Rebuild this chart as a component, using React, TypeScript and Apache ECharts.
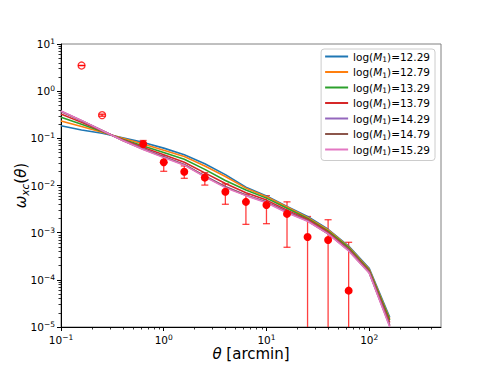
import React, { useEffect, useRef } from 'react';
import * as echarts from 'echarts';

// ---------- data ----------
const thetaModel = [0.1, 0.1585, 0.2512, 0.3981, 0.631, 1, 1.585, 2.512, 3.981, 6.31, 10, 15.85, 25.12, 39.81, 63.1, 100, 158.5];
const massLabels = ['12.29', '12.79', '13.29', '13.79', '14.29', '14.79', '15.29'];
const seriesColors = ['#1f77b4', '#ff7f0e', '#2ca02c', '#d62728', '#9467bd', '#8c564b', '#e377c2'];

const model1229 = [0.185, 0.150, 0.128, 0.103, 0.082, 0.062, 0.045, 0.029, 0.017, 0.0092, 0.0060, 0.0036, 0.0022, 0.00118, 0.00052, 0.000175, 1.6e-5];
const model1279 = [0.233, 0.178, 0.135, 0.100, 0.076, 0.056, 0.041, 0.026, 0.0155, 0.0088, 0.0058, 0.0035, 0.0021, 0.00114, 0.00050, 0.000168, 1.5e-5];
const model1329 = [0.279, 0.198, 0.140, 0.096, 0.069, 0.050, 0.036, 0.022, 0.0128, 0.0080, 0.0054, 0.0033, 0.0020, 0.00108, 0.00048, 0.000160, 1.4e-5];
const model1379 = [0.328, 0.218, 0.143, 0.093, 0.064, 0.045, 0.031, 0.0185, 0.011, 0.0070, 0.0049, 0.0030, 0.0019, 0.00102, 0.00045, 0.000152, 1.25e-5];
const model1429 = [0.370, 0.235, 0.146, 0.091, 0.060, 0.041, 0.028, 0.016, 0.0095, 0.0063, 0.0045, 0.0028, 0.0018, 0.00096, 0.00043, 0.000144, 1.1e-5];
const model1479 = [0.375, 0.237, 0.146, 0.090, 0.059, 0.040, 0.0275, 0.0157, 0.0093, 0.0062, 0.0044, 0.0027, 0.00178, 0.00095, 0.00042, 0.000142, 1.05e-5];
const model1529 = [0.380, 0.240, 0.147, 0.090, 0.058, 0.039, 0.027, 0.0153, 0.0090, 0.0061, 0.0043, 0.00265, 0.00175, 0.00094, 0.00041, 0.00014, 1.0e-5];
const modelValues = [model1229, model1279, model1329, model1379, model1429, model1479, model1529];

const obsTheta = [0.631, 1, 1.585, 2.512, 3.981, 6.31, 10, 15.85, 25.12, 39.81, 63.1];
const obsOmega = [0.076, 0.031, 0.0195, 0.0147, 0.0074, 0.0045, 0.00385, 0.0025, 0.00081, 0.0007, 5.9e-5];
const obsLow = [0.065, 0.020, 0.0142, 0.0102, 0.0040, 0.0015, 0.00155, 0.00049, 1e-7, 1e-7, 1e-7];
const obsHigh = [0.090, 0.043, 0.026, 0.0187, 0.0108, 0.0065, 0.0061, 0.0045, 0.0022, 0.00188, 0.000625];

const hollowTheta = [0.1585, 0.2512];
const hollowOmega = [3.5, 0.31];
const hollowLow = [3.48, 0.295];
const hollowHigh = [3.52, 0.325];

const xMajorTicks = [0.1, 1, 10, 100];
const yMajorTicks = [1e-5, 1e-4, 1e-3, 1e-2, 1e-1, 1, 10];

const FONT = 'DejaVu Sans';

function minorTicks(minExp: number, maxVal: number): number[] {
  const out: number[] = [];
  for (let e = minExp; Math.pow(10, e) < maxVal; e++) {
    for (let m = 2; m <= 9; m++) {
      const v = m * Math.pow(10, e);
      if (v < maxVal) out.push(v);
    }
  }
  return out;
}

function powLabel(v: number): string {
  const e = Math.round(Math.log10(v));
  const s = e < 0 ? '\u2212' + String(-e) : String(e);
  return `{b|10}{s|${s}}`;
}

const tickRich = {
  b: { fontFamily: FONT, fontSize: 10.5, lineHeight: 13, color: '#000' },
  s: { fontFamily: FONT, fontSize: 7.5, lineHeight: 6, verticalAlign: 'top', color: '#000' },
};

export default function App() {
  const ref = useRef<HTMLDivElement>(null);
  useEffect(() => {
    if (!ref.current) return;
    const chart = echarts.init(ref.current, undefined, { renderer: 'svg' });

    const errRender = (stroke: string) => (params: any, api: any) => {
      const x = api.value(0);
      const lo = api.value(2);
      const hi = api.value(3);
      const pLo = api.coord([x, lo]);
      const pHi = api.coord([x, hi]);
      const cap = 3.5;
      const st = { stroke, lineWidth: 1.3 };
      return {
        type: 'group',
        children: [
          { type: 'line', shape: { x1: pLo[0], y1: pLo[1], x2: pHi[0], y2: pHi[1] }, style: st },
          { type: 'line', shape: { x1: pHi[0] - cap, y1: pHi[1], x2: pHi[0] + cap, y2: pHi[1] }, style: st },
          { type: 'line', shape: { x1: pLo[0] - cap, y1: pLo[1], x2: pLo[0] + cap, y2: pLo[1] }, style: st },
        ],
      };
    };

    const lineSeries = massLabels.map((m, i) => ({
      name: `log(M1)=${m}`,
      type: 'line',
      xAxisIndex: 0,
      yAxisIndex: 0,
      data: thetaModel.map((t, j) => [t, modelValues[i][j]]),
      symbol: 'none',
      clip: true,
      lineStyle: { color: seriesColors[i], width: 1.6 },
      itemStyle: { color: seriesColors[i] },
    }));

    const option: any = {
      animation: false,
      backgroundColor: '#fff',
      grid: {
        left: 61, right: 49, top: 44, bottom: 41,
        show: true, borderColor: '#808080', borderWidth: 1, backgroundColor: 'transparent',
        outerBoundsMode: 'none',
      },
      xAxis: [
        {
          type: 'log', logBase: 10, min: 0.1, max: 500, position: 'bottom',
          axisLine: { show: true, onZero: false, lineStyle: { color: '#000', width: 1 } },
          axisTick: { show: true, length: 4, customValues: xMajorTicks, lineStyle: { color: '#000', width: 1 } },
          axisLabel: {
            customValues: xMajorTicks, margin: 6, formatter: (v: number) => powLabel(v),
            rich: tickRich, color: '#000',
          },
          splitLine: { show: false },
          name: '{i|θ}{n| [arcmin]}',
          nameLocation: 'middle',
          nameGap: 19,
          nameMoveOverlap: false,
          nameTextStyle: {
            rich: {
              i: { fontFamily: FONT, fontSize: 15, fontStyle: 'italic', color: '#000' },
              n: { fontFamily: FONT, fontSize: 15, color: '#000' },
            },
          },
        },
        {
          type: 'log', logBase: 10, min: 0.1, max: 500, position: 'top', offset: -283,
          axisLine: { show: false },
          axisTick: { show: true, inside: true, length: 2.5, customValues: minorTicks(-1, 500), lineStyle: { color: '#000', width: 0.8 } },
          axisLabel: { show: false },
          splitLine: { show: false },
        },
      ],
      yAxis: [
        {
          type: 'log', logBase: 10, min: 1e-5, max: 10, position: 'left',
          axisLine: { show: true, onZero: false, lineStyle: { color: '#000', width: 1 } },
          axisTick: { show: true, length: 4, customValues: yMajorTicks, lineStyle: { color: '#000', width: 1 } },
          axisLabel: {
            customValues: yMajorTicks, margin: 6, formatter: (v: number) => powLabel(v),
            rich: tickRich, color: '#000',
          },
          splitLine: { show: false },
          name: '{i|ω}{s|xc}{n|(}{i|θ}{n|)}',
          nameLocation: 'middle',
          nameRotate: 90,
          nameGap: 31,
          nameMoveOverlap: false,
          nameTextStyle: {
            rich: {
              i: { fontFamily: FONT, fontSize: 15, fontStyle: 'italic', color: '#000', lineHeight: 18 },
              n: { fontFamily: FONT, fontSize: 15, color: '#000', lineHeight: 18 },
              s: { fontFamily: FONT, fontSize: 10.5, fontStyle: 'italic', color: '#000', lineHeight: 12, verticalAlign: 'bottom' },
            },
          },
        },
        {
          type: 'log', logBase: 10, min: 1e-5, max: 10, position: 'right', offset: -380,
          axisLine: { show: false },
          axisTick: { show: true, inside: true, length: 2.5, customValues: minorTicks(-5, 10), lineStyle: { color: '#000', width: 0.8 } },
          axisLabel: { show: false },
          splitLine: { show: false },
        },
      ],
      legend: {
        orient: 'vertical',
        right: 55,
        top: 49,
        icon: 'rect',
        itemWidth: 23,
        itemHeight: 2,
        itemGap: 3,
        padding: [2, 5, 4, 4],
        backgroundColor: 'rgba(255,255,255,0.8)',
        borderColor: '#cccccc',
        borderWidth: 1,
        borderRadius: 3,
        data: massLabels.map((m) => `log(M1)=${m}`),
        formatter: (name: string) => {
          const m = name.split('=')[1];
          return `{t|log(}{i|M}{s|1}{t|)=${m}}`;
        },
        textStyle: {
          color: '#000',
          rich: {
            t: { fontFamily: FONT, fontSize: 10.5, lineHeight: 14, color: '#000', padding: [0, 0, 0, 0] },
            i: { fontFamily: FONT, fontSize: 10.5, lineHeight: 14, fontStyle: 'italic', color: '#000' },
            s: { fontFamily: FONT, fontSize: 7.5, lineHeight: 9, verticalAlign: 'bottom', color: '#000' },
          },
        },
      },
      series: [
        ...lineSeries,
        {
          type: 'custom',
          xAxisIndex: 0, yAxisIndex: 0,
          clip: true,
          renderItem: errRender('rgba(255,0,0,0.75)'),
          encode: { x: 0, y: 1 },
          data: obsTheta.map((t, i) => [t, obsOmega[i], obsLow[i], obsHigh[i]]),
          z: 3,
        },
        {
          type: 'custom',
          xAxisIndex: 0, yAxisIndex: 0,
          clip: true,
          renderItem: errRender('rgba(255,0,0,0.9)'),
          encode: { x: 0, y: 1 },
          data: hollowTheta.map((t, i) => [t, hollowOmega[i], hollowLow[i], hollowHigh[i]]),
          z: 3,
        },
        {
          type: 'scatter',
          xAxisIndex: 0, yAxisIndex: 0,
          symbol: 'circle',
          symbolSize: 8,
          itemStyle: { color: '#ff0000', opacity: 1 },
          data: obsTheta.map((t, i) => [t, obsOmega[i]]),
          z: 4,
        },
        {
          type: 'scatter',
          xAxisIndex: 0, yAxisIndex: 0,
          symbol: 'circle',
          symbolSize: 7,
          itemStyle: { color: 'rgba(255,255,255,0)', borderColor: '#ff0000', borderWidth: 1.3 },
          data: hollowTheta.map((t, i) => [t, hollowOmega[i]]),
          z: 4,
        },
      ],
    };
    chart.setOption(option);
    return () => chart.dispose();
  }, []);
  return <div ref={ref} style={{ width: 490, height: 368, position: 'absolute', left: 0, top: 0 }} />;
}
